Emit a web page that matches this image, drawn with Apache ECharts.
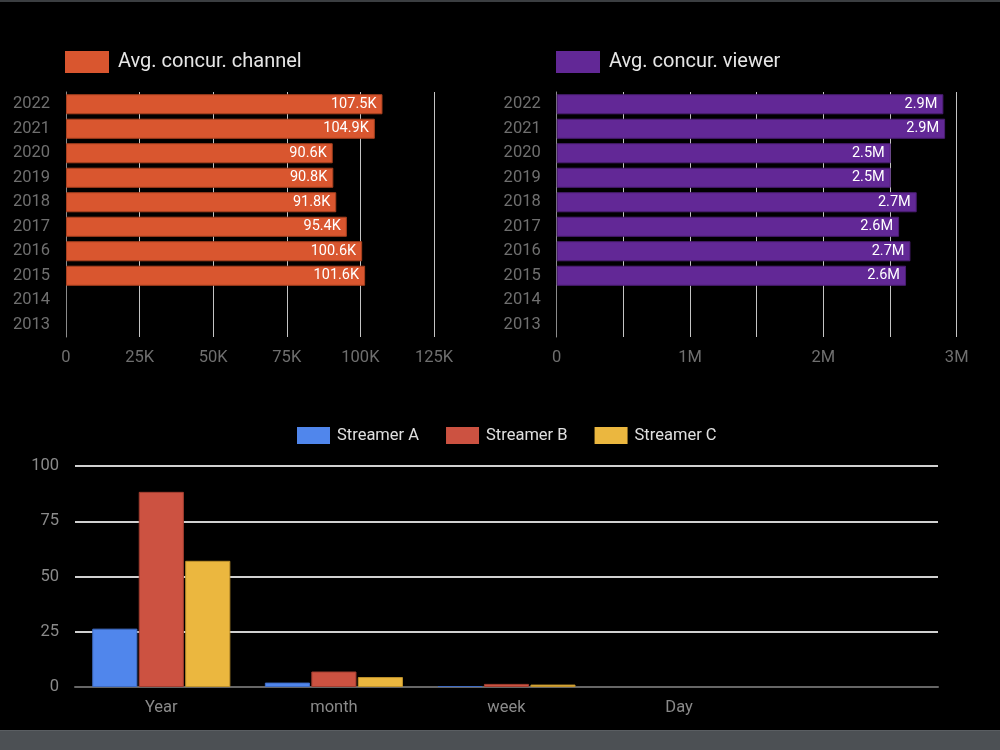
<!DOCTYPE html>
<html>
<head>
<meta charset="utf-8">
<script src="https://cdn.jsdelivr.net/npm/echarts@6/dist/echarts.min.js"></script>
<style>
  html, body { margin: 0; padding: 0; background: #000; }
  #chart { width: 1000px; height: 750px; }
  .topBar { position: absolute; left: 0; top: 0; width: 1000px; height: 2px; background: #3b3e41; }
  .bottomBar { position: absolute; left: 0; top: 730px; width: 1000px; height: 20px; background: #4c5054; border-top: 1px solid #5a5e62; }
</style>
</head>
<body>
<div id="chart"></div>
<div class="topBar"></div>
<div class="bottomBar"></div>
<script>
// top charts: years listed top to bottom
const years = ['2022', '2021', '2020', '2019', '2018', '2017', '2016', '2015', '2014', '2013'];
const channelAvg = [107500, 104900, 90600, 90800, 91800, 95400, 100600, 101600, null, null];
const viewerAvg = [2900000, 2913000, 2505000, 2505000, 2700000, 2568000, 2653000, 2620000, null, null];

// bottom chart (last category has no label)
const periods = ['Year', 'month', 'week', 'Day', ''];
const streamerA = [26.4, 2.0, 0.45, null, null];
const streamerB = [88.3, 7.0, 1.4, null, null];
const streamerC = [57.1, 4.5, 1.1, null, null];

const font = 'Roboto, sans-serif';
const chart = echarts.init(document.getElementById('chart'));

const legendTop = (name, left) => ({
  data: [name],
  left: left,
  top: 51,
  padding: 0,
  itemWidth: 44,
  itemHeight: 22,
  itemGap: 0,
  icon: 'rect',
  itemStyle: { borderWidth: 0 },
  textStyle: { color: '#e6e6e6', fontSize: 20, fontFamily: font, padding: [0, 0, 0, 4] },
  selectedMode: false
});

const valueAxis = (grid, max, interval, fmt) => ({
  type: 'value',
  gridIndex: grid,
  min: 0,
  max: max,
  interval: interval,
  axisLine: { show: false },
  axisTick: { show: false },
  splitLine: { show: true, lineStyle: { color: '#c4c4c4', width: 1 } },
  axisLabel: { color: '#6f6f6f', fontSize: 16.5, fontFamily: font, margin: 12, formatter: fmt }
});

const yearAxis = (grid) => ({
  type: 'category',
  gridIndex: grid,
  data: years,
  inverse: true,
  axisLine: { show: true, lineStyle: { color: '#8a8a8a', width: 1 } },
  axisTick: { show: false },
  axisLabel: { color: '#6f6f6f', fontSize: 16.5, fontFamily: font, margin: 16 }
});

const hbar = (name, grid, data, color, border, fmt) => ({
  name: name,
  type: 'bar',
  xAxisIndex: grid,
  yAxisIndex: grid,
  data: data,
  barCategoryGap: '18%',
  itemStyle: { color: color, borderColor: border, borderWidth: 1 },
  label: {
    show: true,
    position: 'insideRight',
    distance: 6,
    color: '#fff',
    fontSize: 14.5,
    fontFamily: font,
    formatter: (p) => fmt(p.value)
  }
});

const vbar = (name, data, color, border) => ({
  name: name,
  type: 'bar',
  xAxisIndex: 2,
  yAxisIndex: 2,
  data: data,
  barGap: '3%',
  barCategoryGap: '20%',
  itemStyle: { color: color, borderColor: border, borderWidth: 1 }
});

const option = {
  backgroundColor: '#000',
  animation: false,
  legend: [
    legendTop('Avg. concur. channel', 65),
    legendTop('Avg. concur. viewer', 556),
    {
      data: ['Streamer A', 'Streamer B', 'Streamer C'],
      left: 297,
      top: 427,
      padding: 0,
      itemWidth: 33,
      itemHeight: 17,
      itemGap: 27,
      icon: 'rect',
      itemStyle: { borderWidth: 0 },
      textStyle: { color: '#e0e0e0', fontSize: 16.5, fontFamily: font, padding: [0, 0, 0, 2] },
      selectedMode: false
    }
  ],
  grid: [
    { left: 66, width: 368, top: 92, height: 245 },
    { left: 556.7, width: 400, top: 92, height: 245 },
    { left: 75, right: 62, top: 466, bottom: 63 }
  ],
  xAxis: [
    valueAxis(0, 125000, 25000, (v) => v === 0 ? '0' : v / 1000 + 'K'),
    valueAxis(1, 3000000, 500000, (v) => v === 0 ? '0' : (v % 1000000 === 0 ? v / 1000000 + 'M' : '')),
    {
      type: 'category',
      gridIndex: 2,
      data: periods,
      axisLine: { show: true, lineStyle: { color: '#666', width: 2 } },
      axisTick: { show: false },
      axisLabel: { color: '#8a8a8a', fontSize: 16.5, fontFamily: font, margin: 12 }
    }
  ],
  yAxis: [
    yearAxis(0),
    yearAxis(1),
    {
      type: 'value',
      gridIndex: 2,
      min: 0,
      max: 100,
      interval: 25,
      axisLine: { show: false },
      axisTick: { show: false },
      splitLine: { show: true, lineStyle: { color: '#d0d0d0', width: 2 } },
      axisLabel: { color: '#8a8a8a', fontSize: 16.5, fontFamily: font, margin: 16 }
    }
  ],
  series: [
    hbar('Avg. concur. channel', 0, channelAvg, '#d9562f', '#a8401f', (v) => (v / 1000).toFixed(1) + 'K'),
    hbar('Avg. concur. viewer', 1, viewerAvg, '#622896', '#4a1d72', (v) => (v / 1000000).toFixed(1) + 'M'),
    vbar('Streamer A', streamerA, '#5086ec', '#3f6cc4'),
    vbar('Streamer B', streamerB, '#cc5241', '#a23e30'),
    vbar('Streamer C', streamerC, '#ebb73f', '#bf922c')
  ]
};

chart.setOption(option);
</script>
</body>
</html>
